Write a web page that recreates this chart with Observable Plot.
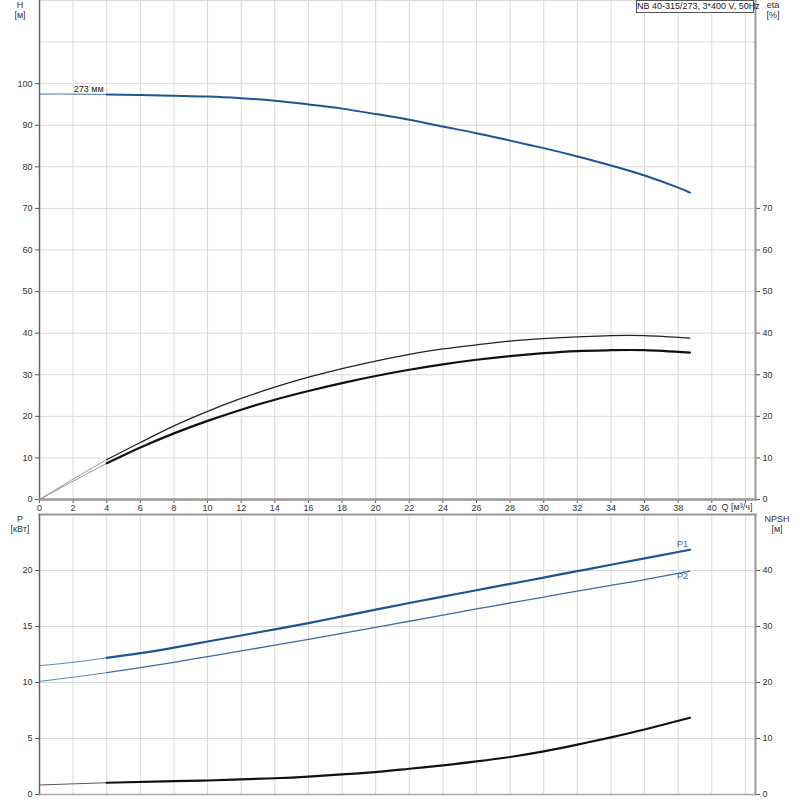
<!DOCTYPE html>
<html><head><meta charset="utf-8">
<script src="https://cdn.jsdelivr.net/npm/d3@7"></script>
<script src="https://cdn.jsdelivr.net/npm/@observablehq/plot@0.6"></script>
<style>
body{margin:0;background:#fff;font-family:"Liberation Sans",Arial,sans-serif;}
#wrap{position:relative;width:800px;height:800px;overflow:hidden;}
#wrap svg{display:block;}
.lbl{position:absolute;font-size:9px;color:#333;text-align:center;line-height:10px;white-space:nowrap;}
#title{position:absolute;left:636px;top:0px;width:116px;height:11px;border:1px solid #555;font-size:9px;line-height:11px;color:#222;text-align:center;background:#fff;white-space:nowrap;}
</style></head><body>
<div id="wrap">
  <div class="lbl" style="left:8px;top:0px;width:24px;">H<br>[м]</div>
  <div class="lbl" style="left:760px;top:0px;width:26px;">eta<br>[%]</div>
  <div id="title">NB 40-315/273, 3*400 V, 50Hz</div>
</div>
<script>
// ---- data ----
const qGrid = [0,2,4,6,8,10,12,14,16,18,20,22,24,26,28,30,32,34,36,38,40,42];
const qTicks = [0,2,4,6,8,10,12,14,16,18,20,22,24,26,28,30,32,34,36,38,40,42];
const qLabels = ["0","2","4","6","8","10","12","14","16","18","20","22","24","26","28","30","32","34","36","38","40",""];
const hGrid = [10,20,30,40,50,60,70,80,90,100,110,120];
const hTicks = [0,10,20,30,40,50,60,70,80,90,100];
const etaTicks = [0,10,20,30,40,50,60,70];
const pGrid = [5,10,15,20];
const pTicks = [0,5,10,15,20];
const npshTickLabels = ["0","10","20","30","40"];

const qH = [0,2,4,6,8,10,12,14,16,18,20,22,24,26,28,30,32,34,36,38,38.7];
const hVals = [97.5,97.5,97.4,97.3,97.1,96.9,96.5,95.9,95.0,94.0,92.7,91.3,89.7,88.1,86.3,84.5,82.5,80.3,77.9,75.0,73.8];

const qEta = [0,2,4,6,8,10,12,14,16,18,20,22,24,26,28,30,32,34,36,38.7];
const etaUpper = [0,4.9,9.6,13.7,17.7,21.2,24.3,27.0,29.4,31.5,33.3,34.9,36.2,37.2,38.1,38.7,39.1,39.4,39.4,38.8];
const etaLower = [0,4.4,8.7,12.5,15.9,18.9,21.6,24.0,26.1,28.0,29.7,31.2,32.5,33.6,34.5,35.2,35.7,35.9,35.9,35.3];

const qP = [0,2,4,6,8,10,12,14,16,18,20,22,24,26,28,30,32,34,36,38.7];
const p1Vals = [11.5,11.8,12.2,12.62,13.12,13.66,14.2,14.75,15.3,15.9,16.5,17.1,17.67,18.24,18.8,19.37,19.94,20.51,21.08,21.85];
const p2Vals = [10.1,10.47,10.88,11.32,11.8,12.32,12.82,13.33,13.85,14.38,14.92,15.47,16.02,16.57,17.1,17.63,18.15,18.67,19.18,19.95];

const qN = [0,4,8,10,12,14,16,18,20,22,24,26,28,30,32,34,36,38.7];
const npshVals = [1.7,2.1,2.4,2.5,2.7,2.9,3.2,3.6,4.0,4.6,5.2,5.9,6.7,7.7,8.9,10.2,11.6,13.7];

const hLabel = "273 мм";
const qSplit = 4;

// ---- helpers ----
const rows = (qs, vs, f = v => v) => qs.map((q, i) => ({Q: q, v: f(vs[i])}));
const head = d => d.filter(r => r.Q <= qSplit);
const tail = d => d.filter(r => r.Q >= qSplit);

const H = rows(qH, hVals);
const EU = rows(qEta, etaUpper);
const EL = rows(qEta, etaLower);
const P1 = rows(qP, p1Vals);
const P2 = rows(qP, p2Vals);
const NP = rows(qN, npshVals, v => v / 2); // NPSH drawn on P scale (NPSH = 2·P)

const font = "Liberation Sans, Arial, sans-serif";
const blue = "#1c5596";
const blue2 = "#3a6aa6";
const gridC = "#d9d9d9";
const lineOpts = {x: "Q", y: "v", curve: "natural"};

const topPlot = Plot.plot({
  width: 800, height: 513,
  marginLeft: 39, marginRight: 45, marginTop: 0, marginBottom: 14,
  style: {fontFamily: font, fontSize: "9px", color: "#333", background: "transparent", overflow: "visible"},
  x: {domain: [0, 42.6]},
  y: {domain: [0, 120]},
  marks: [
    Plot.gridX(qGrid, {stroke: gridC, strokeOpacity: 1}),
    Plot.gridY(hGrid, {stroke: gridC, strokeOpacity: 1}),
    Plot.axisX({ticks: qTicks, tickFormat: d => qLabels[qTicks.indexOf(d)], tickSize: 4, tickPadding: 1, label: null, stroke: "#555"}),
    Plot.axisY({ticks: hTicks, anchor: "left", tickSize: 4, tickPadding: 3, label: null, stroke: "#555"}),
    Plot.axisY({ticks: etaTicks, anchor: "right", tickSize: 4, tickPadding: 3, label: null, stroke: "#555"}),
    Plot.text(["Q [м³/ч]"], {frameAnchor: "bottom-right", text: d => d, textAnchor: "end", lineAnchor: "top", dx: -3, dy: 4, fill: "#333"}),
    // H curve
    Plot.line(head(H), {...lineOpts, stroke: "#5f86b8", strokeWidth: 1.2}),
    Plot.line(tail(H), {...lineOpts, stroke: blue, strokeWidth: 2}),
    Plot.text(H.filter(r => r.Q === qSplit), {x: "Q", y: "v", text: () => hLabel, textAnchor: "end", lineAnchor: "bottom", dx: -3, dy: -2, fill: "#222"}),
    // eta curves
    Plot.line(head(EU), {...lineOpts, stroke: "#999", strokeWidth: 1}),
    Plot.line(head(EL), {...lineOpts, stroke: "#999", strokeWidth: 1}),
    Plot.line(tail(EU), {...lineOpts, stroke: "#222", strokeWidth: 1.3}),
    Plot.line(tail(EL), {...lineOpts, stroke: "#111", strokeWidth: 2.2}),
    Plot.frame({anchor: "left", stroke: "#666", strokeWidth: 1.5}),
    Plot.frame({anchor: "bottom", stroke: "#999", strokeWidth: 2.5}),
    Plot.frame({anchor: "right", stroke: "#999", strokeWidth: 2})
  ]
});

const botPlot = Plot.plot({
  width: 800, height: 287,
  marginLeft: 39, marginRight: 45, marginTop: 1, marginBottom: 6,
  style: {fontFamily: font, fontSize: "9px", color: "#333", background: "transparent", overflow: "visible"},
  x: {domain: [0, 42.6], axis: null},
  y: {domain: [0, 25]},
  marks: [
    Plot.gridX(qGrid, {stroke: gridC, strokeOpacity: 1}),
    Plot.gridY(pGrid, {stroke: gridC, strokeOpacity: 1}),
    Plot.axisY({ticks: pTicks, anchor: "left", tickSize: 4, tickPadding: 3, label: null, stroke: "#555"}),
    Plot.axisY({ticks: pTicks, tickFormat: d => npshTickLabels[pTicks.indexOf(d)], anchor: "right", tickSize: 4, tickPadding: 3, label: null, stroke: "#555"}),
    // P1, P2
    Plot.line(head(P1), {...lineOpts, stroke: "#5f86b8", strokeWidth: 1}),
    Plot.line(head(P2), {...lineOpts, stroke: "#5f86b8", strokeWidth: 1}),
    Plot.line(tail(P1), {...lineOpts, stroke: blue, strokeWidth: 2.2}),
    Plot.line(tail(P2), {...lineOpts, stroke: blue2, strokeWidth: 1.3}),
    Plot.text(P1.slice(-1), {x: "Q", y: "v", text: () => "P1", textAnchor: "end", lineAnchor: "bottom", dx: -2, dy: -3, fill: "#3a6aa6"}),
    Plot.text(P2.slice(-1), {x: "Q", y: "v", text: () => "P2", textAnchor: "end", lineAnchor: "top", dx: -2, dy: 2, fill: "#3a6aa6"}),
    // NPSH
    Plot.line(head(NP), {...lineOpts, stroke: "#555", strokeWidth: 1}),
    Plot.line(tail(NP), {...lineOpts, stroke: "#111", strokeWidth: 2.2}),
    Plot.frame({anchor: "top", stroke: "#999", strokeWidth: 2}),
    Plot.frame({anchor: "left", stroke: "#666", strokeWidth: 1.5}),
    Plot.frame({anchor: "bottom", stroke: "#aaa", strokeWidth: 1.5}),
    Plot.frame({anchor: "right", stroke: "#999", strokeWidth: 2})
  ]
});

const wrap = document.getElementById("wrap");
wrap.insertBefore(botPlot, wrap.firstChild);
wrap.insertBefore(topPlot, wrap.firstChild);

const addLbl = (html, left, top, width) => {
  const d = document.createElement("div");
  d.className = "lbl";
  d.style.left = left + "px"; d.style.top = top + "px"; d.style.width = width + "px";
  d.innerHTML = html;
  wrap.appendChild(d);
};
addLbl("P<br>[кВт]", 6, 514, 28);
addLbl("NPSH<br>[м]", 762, 514, 30);
</script>
</body></html>
